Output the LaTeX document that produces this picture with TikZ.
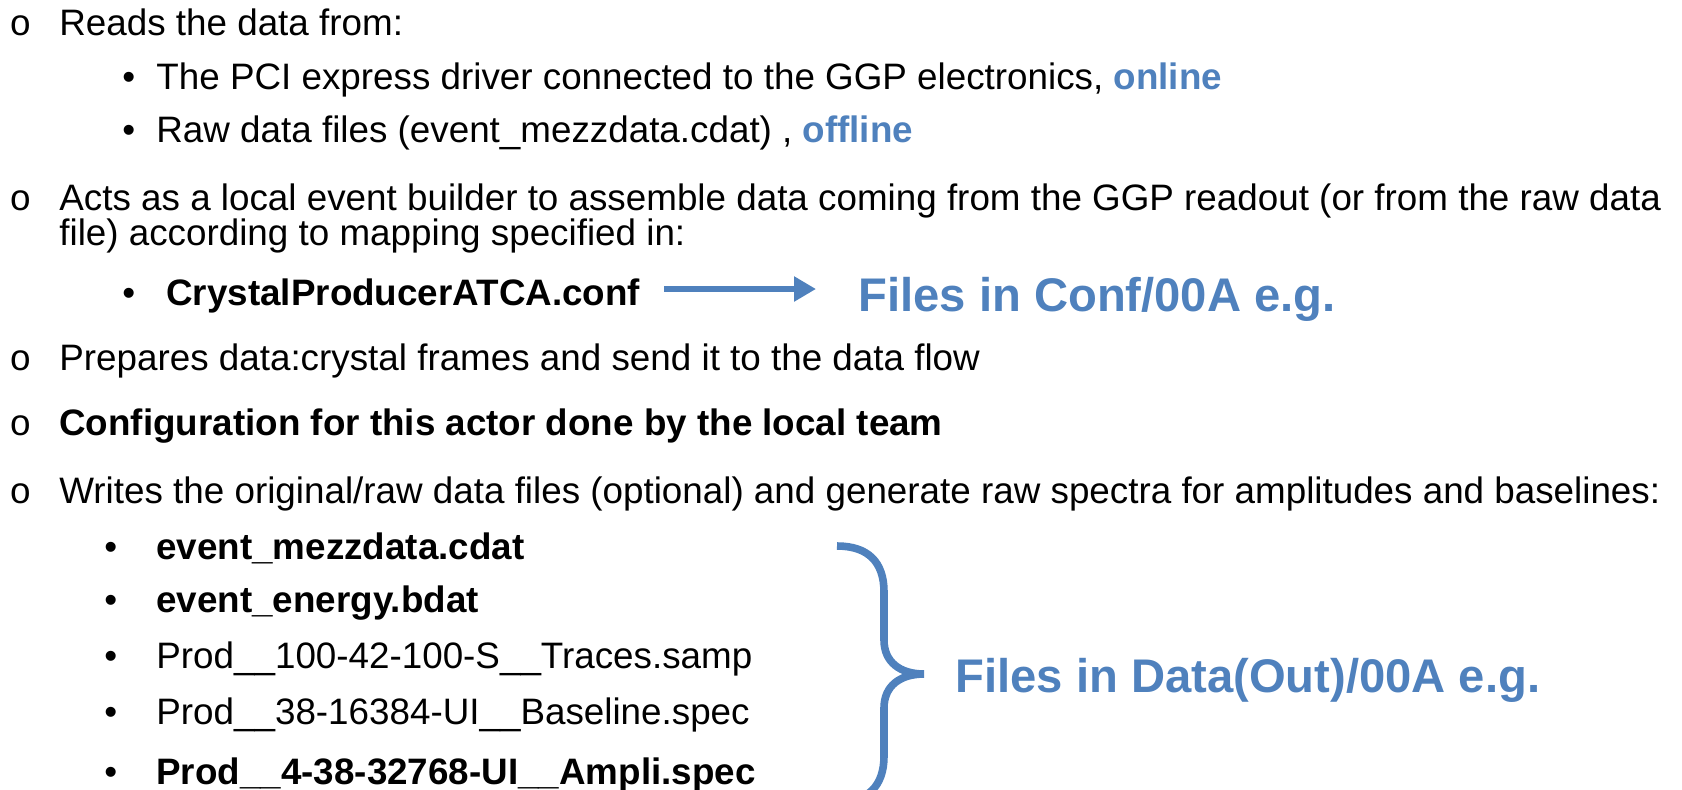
\documentclass[tikz,border=0pt]{standalone}
\usepackage{fontspec}
\setmainfont{Liberation Sans}
\newfontfamily\ofont{Liberation Mono}
\usetikzlibrary{arrows.meta}
\definecolor{slideblue}{RGB}{79,129,189}

\begin{document}
\begin{tikzpicture}[x=0.5pt, y=-0.5pt,
                every node/.style={anchor=base west, inner sep=0pt, font=\fontsize{18.4}{22}\selectfont},
                o_style/.style={font=\fontsize{18.4}{22}\selectfont\ofont},
                blue_style/.style={text=slideblue, font=\fontsize{23.6}{28}\selectfont\bfseries},
                arrow_style/.style={draw=slideblue, line width=3.4pt, -{Triangle[length=11pt, width=12pt]}}]
                \tikzset{brace_style/.style={draw=slideblue, line width=3.8pt}}
                \useasboundingbox (0,0) rectangle (1682,789);
                \clip (0,0) rectangle (1682,789);
                % first block
                \node[o_style] (o1) at (9,35) {o};
                \node (t1) at (59,35) {Reads the data from:};
                \node (b2) at (122,89) {\textbullet};
                \node (t2) at (156,89) {The PCI express driver connected to the GGP electronics, \textcolor{slideblue}{\bfseries online}};
                \node (b3) at (122,142) {\textbullet};
                \node (t3) at (156,142) {Raw data files (event\_mezzdata.cdat) , \textcolor{slideblue}{\bfseries offline}};
                % event builder
                \node[o_style] (o4) at (9,210) {o};
                \node (t4) at (59,210) {Acts as a local event builder to assemble data coming from the GGP readout (or from the raw data};
                \node (t5) at (59,245) {file) according to mapping specified in:};
                \node (b6) at (122,305) {\textbullet};
                \node (t6) at (166,305) {\bfseries CrystalProducerATCA.conf};
                \node[blue_style] (confdir) at (858,311) {Files in Conf/00A e.g.};
                \coordinate (arr_a) at (664,289);
                \coordinate (arr_b) at (816,289);
                \draw[arrow_style] (arr_a) -- (arr_b);
                % prepares, configuration
                \node[o_style] (o7) at (9,370) {o};
                \node (t7) at (59,370) {Prepares data:crystal frames and send it to the data flow};
                \node[o_style] (o8) at (9,435) {o};
                \node (t8) at (59,435) {\bfseries Configuration for this actor done by the local team};
                % output files
                \node[o_style] (o9) at (9,503) {o};
                \node (t9) at (59,503) {Writes the original/raw data files (optional) and generate raw spectra for amplitudes and baselines:};
                \node (b10) at (104,559) {\textbullet};
                \node (t10) at (156,559) {\bfseries event\_mezzdata.cdat};
                \node (b11) at (104,612) {\textbullet};
                \node (t11) at (156,612) {\bfseries event\_energy.bdat};
                \node (b12) at (104,668) {\textbullet};
                \node (t12) at (156,668) {Prod\_\_100-42-100-S\_\_Traces.samp};
                \node (b13) at (104,724) {\textbullet};
                \node (t13) at (156,724) {Prod\_\_38-16384-UI\_\_Baseline.spec};
                \node (b14) at (104,784) {\textbullet};
                \node (t14) at (156,784) {\bfseries Prod\_\_4-38-32768-UI\_\_Ampli.spec};
                \draw[brace_style] (837,546) .. controls (868,546) and (884,562) .. (884,592) -- (884,640)
                      .. controls (884,662) and (900,674) .. (924,674)
                      .. controls (900,674) and (884,686) .. (884,708) -- (884,756)
                      .. controls (884,786) and (868,802) .. (837,802);
                \node[blue_style] (datadir) at (955,692) {Files in Data(Out)/00A e.g.};
            \end{tikzpicture}
\end{document}
